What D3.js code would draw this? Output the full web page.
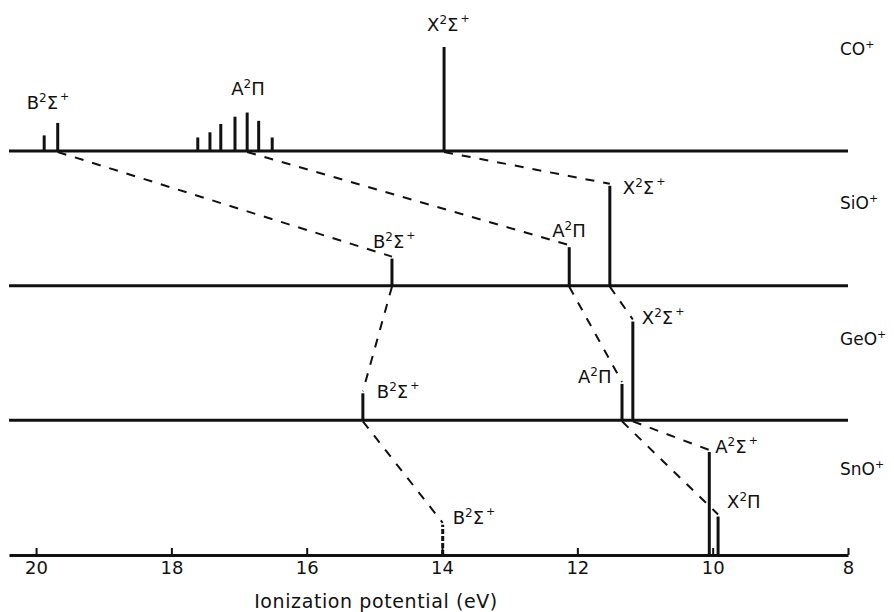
<!DOCTYPE html>
<html>
<head>
<meta charset="utf-8">
<script src="https://cdn.jsdelivr.net/npm/d3@7"></script>
<style>
  body { margin: 0; background: #fff; }
  svg { font-family: 'DejaVu Sans', sans-serif; }
  text { fill: #111; }
</style>
</head>
<body>
<svg id="chart" width="894" height="612"></svg>
<script>
const molecules = ['CO', 'SiO', 'GeO', 'SnO'];
const tickValues = [20, 18, 16, 14, 12, 10, 8];

// [ionization potential eV, relative intensity, tentative]
const coPeaks = [[19.88, 0.15], [19.68, 0.27], [17.61, 0.13], [17.43, 0.18], [17.27, 0.26],
  [17.06, 0.33], [16.88, 0.37], [16.71, 0.29], [16.51, 0.13], [13.97, 1.0]];
const sioPeaks = [[14.74, 0.26], [12.12, 0.37], [11.52, 0.96]];
const geoPeaks = [[15.17, 0.26], [11.34, 0.35], [11.18, 0.95]];
const snoPeaks = [[13.99, 0.29, true], [10.05, 0.99], [9.92, 0.37]];

// [term, symbol, sign, eV]
const coStates = [['B', 'Σ', '+', 19.68], ['A', 'Π', '', 16.88], ['X', 'Σ', '+', 13.97]];
const sioStates = [['B', 'Σ', '+', 14.74], ['A', 'Π', '', 12.12], ['X', 'Σ', '+', 11.52]];
const geoStates = [['B', 'Σ', '+', 15.17], ['A', 'Π', '', 11.34], ['X', 'Σ', '+', 11.18]];
const snoStates = [['B', 'Σ', '+', 13.99], ['A', 'Σ', '+', 10.05], ['X', 'Π', '', 9.92]];

const correlations = [
  ['CO', 'B', 'SiO', 'B'], ['CO', 'A', 'SiO', 'A'], ['CO', 'X', 'SiO', 'X'],
  ['SiO', 'B', 'GeO', 'B'], ['SiO', 'A', 'GeO', 'A'], ['SiO', 'X', 'GeO', 'X'],
  ['GeO', 'B', 'SnO', 'B'], ['GeO', 'A', 'SnO', 'X'], ['GeO', 'X', 'SnO', 'A']
];

const peaksByMol = { CO: coPeaks, SiO: sioPeaks, GeO: geoPeaks, SnO: snoPeaks };
const statesByMol = { CO: coStates, SiO: sioStates, GeO: geoStates, SnO: snoStates };

// label placement: [dx from peak, px above peak top]
const labelLayout = {
  'CO-B': [-31, 14], 'CO-A': [-16, 18], 'CO-X': [-17, 16],
  'SiO-B': [-19, 11], 'SiO-A': [-17, 10], 'SiO-X': [13, -8],
  'GeO-B': [14, -5], 'GeO-A': [-44, 1], 'GeO-X': [9, -2],
  'SnO-B': [10, 1], 'SnO-A': [6, -1], 'SnO-X': [9, 9]
};
const molLabelOffset = { CO: -96, SiO: -77, GeO: -75, SnO: -80 };

const svg = d3.select('#chart');
const x = d3.scaleLinear().domain([20.4, 8]).range([9, 848]);
const yBase = d3.scalePoint().domain(molecules).range([151, 555]);
const h = d3.scaleLinear().domain([0, 1]).range([0, 104]);

const peakTop = (mol, ev) => {
  const p = peaksByMol[mol].find(d => d[0] === ev);
  return yBase(mol) - h(p[1]);
};
const stateEv = (mol, term) => statesByMol[mol].find(s => s[0] === term)[3];

// correlation lines
svg.append('g')
  .selectAll('line')
  .data(correlations)
  .enter().append('line')
  .attr('x1', d => x(stateEv(d[0], d[1])))
  .attr('y1', d => yBase(d[0]) + 1)
  .attr('x2', d => x(stateEv(d[2], d[3])))
  .attr('y2', d => peakTop(d[2], stateEv(d[2], d[3])) - 2)
  .attr('stroke', '#111')
  .attr('stroke-width', 2)
  .attr('stroke-dasharray', '9,9');

// baselines (the last one is the axis)
svg.append('g')
  .selectAll('line')
  .data(molecules.slice(0, 3))
  .enter().append('line')
  .attr('x1', x.range()[0])
  .attr('x2', x.range()[1])
  .attr('y1', d => yBase(d))
  .attr('y2', d => yBase(d))
  .attr('stroke', '#111')
  .attr('stroke-width', 3);

const axis = svg.append('g')
  .attr('transform', `translate(0,${yBase('SnO')})`)
  .call(d3.axisBottom(x).tickValues(tickValues).tickSizeInner(-7).tickSizeOuter(0).tickPadding(6));
axis.select('.domain').attr('stroke', '#111').attr('stroke-width', 3);
axis.selectAll('.tick line').attr('stroke', '#111').attr('stroke-width', 2);
axis.selectAll('.tick text')
  .style('font-family', "'DejaVu Sans', sans-serif")
  .style('font-size', '18px')
  .attr('fill', '#111');

svg.append('text')
  .attr('x', 376)
  .attr('y', 608)
  .attr('text-anchor', 'middle')
  .style('font-size', '19px')
  .style('letter-spacing', '0.6px')
  .text('Ionization potential (eV)');

// peaks
molecules.forEach(mol => {
  svg.append('g')
    .selectAll('line')
    .data(peaksByMol[mol])
    .enter().append('line')
    .attr('x1', d => x(d[0]))
    .attr('x2', d => x(d[0]))
    .attr('y1', yBase(mol))
    .attr('y2', d => yBase(mol) - h(d[1]))
    .attr('stroke', '#111')
    .attr('stroke-width', 3)
    .attr('stroke-dasharray', d => d[2] ? '5,2' : null);
});

const addTerm = (g, term, sym, sign) => {
  const t = g.append('text').style('font-size', '18px');
  t.append('tspan').text(term);
  t.append('tspan').attr('dy', -7).style('font-size', '12px').text('2');
  t.append('tspan').attr('dy', 7).text(sym);
  if (sign) t.append('tspan').attr('dy', -9).attr('dx', 2).style('font-size', '11px').text(sign);
  return t;
};

// state labels
molecules.forEach(mol => {
  statesByMol[mol].forEach(s => {
    const lay = labelLayout[`${mol}-${s[0]}`];
    const g = svg.append('g')
      .attr('transform', `translate(${x(s[3]) + lay[0]},${peakTop(mol, s[3]) - lay[1]})`);
    addTerm(g, s[0], s[1], s[2]);
  });

  const t = svg.append('text')
    .attr('x', 840)
    .attr('y', yBase(mol) + molLabelOffset[mol])
    .style('font-size', '17px');
  t.append('tspan').text(mol);
  t.append('tspan').attr('dy', -7).style('font-size', '11px').text('+');
});
</script>
</body>
</html>
